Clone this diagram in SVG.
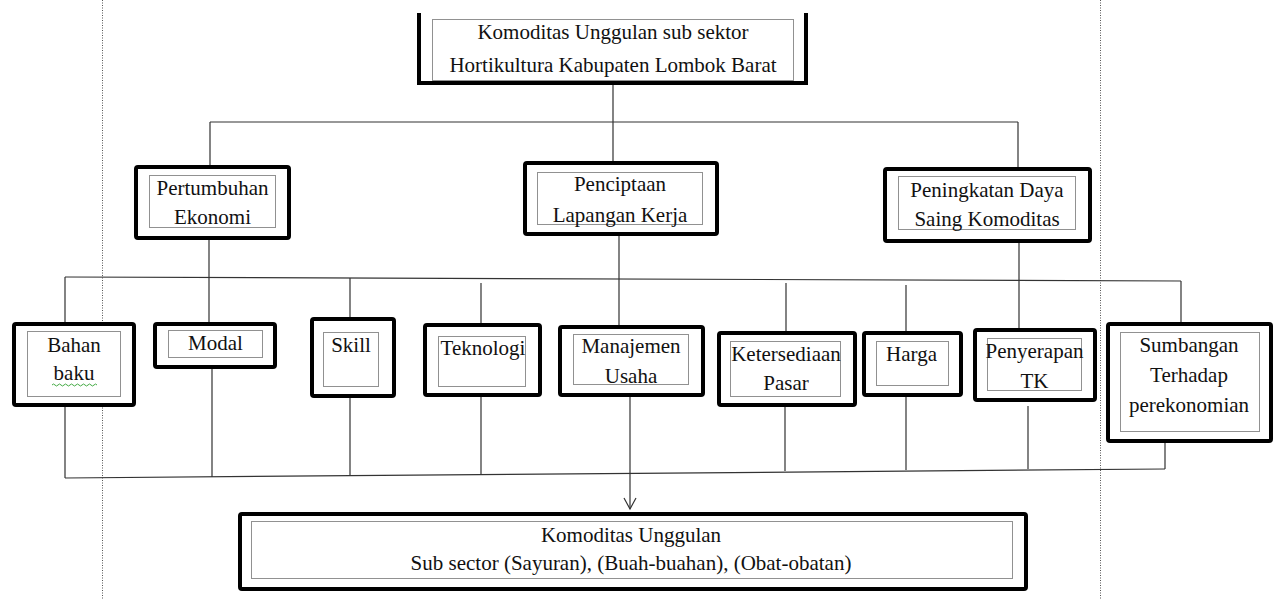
<svg xmlns="http://www.w3.org/2000/svg" width="1275" height="599" viewBox="0 0 1275 599">
<defs>
<style>
.box{fill:#fff;stroke:#000;stroke-width:4;}
.inner{fill:none;stroke:#222;stroke-width:1;stroke-dasharray:1,1;}
.t{font-family:"Liberation Serif","Times New Roman",serif;font-size:21px;fill:#111;text-anchor:middle;}
.c{fill:none;stroke:#333;stroke-width:1.2;}
.guide{fill:none;stroke:#555;stroke-width:1;stroke-dasharray:1,1.5;}
</style>
<marker id="vhead" markerWidth="14" markerHeight="14" refX="12" refY="7" orient="auto" markerUnits="userSpaceOnUse" viewBox="0 0 14 14">
<path d="M1,1 L12,7 L1,13" fill="none" stroke="#333" stroke-width="1.2"/>
</marker>
</defs>
<rect width="1275" height="599" fill="#fff"/>
<g id="guides">
<line class="guide" x1="102.5" y1="0" x2="102.5" y2="599"/>
<line class="guide" x1="1100.5" y1="0" x2="1100.5" y2="599"/>
</g>
<g id="connectors">
<path class="c" d="M613,85 V122 M210,122 H1018 M210,122 V165 M613,122 V161 M1018,122 V167"/>
<path class="c" d="M209,240 V322 M619,236 V325 M1019,243 V328"/>
<path class="c" d="M65,277 L1181,281"/>
<path class="c" d="M65,277 V322 M350,278 V317 M481,283 V323 M786,283 V331 M906,285 V331 M1181,281 V322"/>
<path class="c" d="M65,407 V478 M212,369 V477 M350,398 V476 M481,397 V475 M785,407 V471 M906,397 V470 M1028,406 V469 M1165,443 V469"/>
<path class="c" d="M65,478 L1165,469"/>
<path class="c" d="M630,397 V509" marker-end="url(#vhead)"/>
</g>
<g id="node-top">
<path d="M419,13 V83 H806 V13" fill="#fff" stroke="#000" stroke-width="4"/>
<rect class="inner" x="432.5" y="19.5" width="361" height="61"/>
<text class="t" x="613" y="39">Komoditas Unggulan sub sektor</text>
<text class="t" x="613" y="72">Hortikultura Kabupaten Lombok Barat</text>
</g>
<g id="node-pertumbuhan">
<rect class="box" x="136" y="167" width="153" height="71" rx="2"/>
<rect class="inner" x="149.5" y="175.5" width="126" height="52"/>
<text class="t" x="212.5" y="195">Pertumbuhan</text>
<text class="t" x="212.5" y="224">Ekonomi</text>
</g>
<g id="node-penciptaan">
<rect class="box" x="525" y="163" width="192" height="71" rx="2"/>
<rect class="inner" x="537.5" y="172.5" width="165" height="52"/>
<text class="t" x="620" y="191">Penciptaan</text>
<text class="t" x="620" y="222">Lapangan Kerja</text>
</g>
<g id="node-peningkatan">
<rect class="box" x="885" y="169" width="205" height="72" rx="2"/>
<rect class="inner" x="898.5" y="176.5" width="177" height="53"/>
<text class="t" x="987" y="197">Peningkatan Daya</text>
<text class="t" x="987" y="226">Saing Komoditas</text>
</g>
<g id="node-bahan">
<rect class="box" x="14" y="324" width="120" height="81" rx="2"/>
<rect class="inner" x="27.5" y="331.5" width="93" height="65"/>
<text class="t" x="74" y="352">Bahan</text>
<text class="t" x="74" y="380">baku</text>
<path d="M52,385 q1.5,-2 3,0 t3,0 t3,0 t3,0 t3,0 t3,0 t3,0 t3,0 t3,0 t3,0 t3,0 t3,0 t3,0 t3,0 t3,0" fill="none" stroke="#4a4" stroke-width="1"/>
</g>
<g id="node-modal">
<rect class="box" x="155" y="324" width="120" height="43" rx="2"/>
<rect class="inner" x="168.5" y="330.5" width="94" height="27"/>
<text class="t" x="215.5" y="350">Modal</text>
</g>
<g id="node-skill">
<rect class="box" x="312" y="319" width="82" height="77" rx="2"/>
<rect class="inner" x="323.5" y="332.5" width="55" height="54"/>
<text class="t" x="351" y="352">Skill</text>
</g>
<g id="node-teknologi">
<rect class="box" x="425" y="325" width="115" height="70" rx="2"/>
<rect class="inner" x="438.5" y="336.5" width="87" height="50"/>
<text class="t" x="483" y="355">Teknologi</text>
</g>
<g id="node-manajemen">
<rect class="box" x="560" y="327" width="143" height="68" rx="2"/>
<rect class="inner" x="573.5" y="334.5" width="115" height="50"/>
<text class="t" x="631" y="353">Manajemen</text>
<text class="t" x="631" y="383">Usaha</text>
</g>
<g id="node-ketersediaan">
<rect class="box" x="719" y="333" width="136" height="72" rx="2"/>
<rect class="inner" x="730.5" y="341.5" width="110" height="55"/>
<text class="t" x="786" y="361">Ketersediaan</text>
<text class="t" x="786" y="390">Pasar</text>
</g>
<g id="node-harga">
<rect class="box" x="864" y="333" width="97" height="62" rx="2"/>
<rect class="inner" x="876.5" y="341.5" width="72" height="44"/>
<text class="t" x="911.5" y="361">Harga</text>
</g>
<g id="node-penyerapan">
<rect class="box" x="975" y="330" width="120" height="70" rx="2"/>
<rect class="inner" x="987.5" y="338.5" width="94" height="52"/>
<text class="t" x="1034.5" y="358">Penyerapan</text>
<text class="t" x="1034.5" y="388">TK</text>
</g>
<g id="node-sumbangan">
<rect class="box" x="1108" y="324" width="163" height="117" rx="2"/>
<rect class="inner" x="1120.5" y="332.5" width="139" height="99"/>
<text class="t" x="1189" y="352">Sumbangan</text>
<text class="t" x="1189" y="382">Terhadap</text>
<text class="t" x="1189" y="412">perekonomian</text>
</g>
<g id="node-bottom">
<rect class="box" x="240" y="514" width="786" height="75" rx="2"/>
<rect class="inner" x="251.5" y="521.5" width="761" height="57"/>
<text class="t" x="631" y="542">Komoditas Unggulan</text>
<text class="t" x="631" y="570">Sub sector (Sayuran), (Buah-buahan), (Obat-obatan)</text>
</g>
</svg>
